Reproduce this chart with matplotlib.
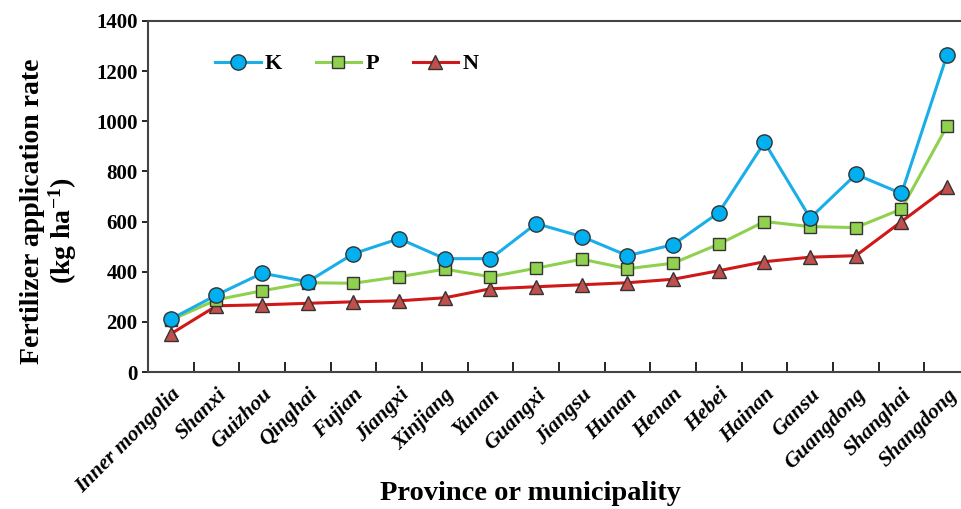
import matplotlib
matplotlib.use("Agg")
from matplotlib import pyplot as plt
import numpy as np

provinces = ['Inner mongolia', 'Shanxi', 'Guizhou', 'Qinghai', 'Fujian', 'Jiangxi',
             'Xinjiang', 'Yunan', 'Guangxi', 'Jiangsu', 'Hunan', 'Henan', 'Hebei',
             'Hainan', 'Gansu', 'Guangdong', 'Shanghai', 'Shangdong']
K = [211, 307, 394, 360, 472, 532, 452, 452, 592, 540, 464, 508, 636, 916, 614, 788, 712, 1266]
P = [207, 288, 324, 356, 354, 380, 410, 380, 414, 450, 412, 434, 510, 600, 580, 576, 650, 982]
N = [152, 264, 268, 274, 280, 284, 296, 332, 340, 348, 356, 370, 404, 440, 458, 464, 600, 736]

plt.rcParams['font.family'] = 'Liberation Serif'
plt.rcParams['font.weight'] = 'bold'
plt.rcParams['mathtext.fontset'] = 'custom'
plt.rcParams['mathtext.rm'] = 'Liberation Serif:bold'
plt.rcParams['mathtext.bf'] = 'Liberation Serif:bold'
plt.rcParams['mathtext.default'] = 'bf'

W, H = 962, 509
fig = plt.figure(figsize=(W / 100, H / 100), dpi=100)
ax = fig.add_axes([148 / W, 1 - 372 / H, (970 - 148) / W, (372 - 21) / H])

x = np.arange(len(provinces))
ax.plot(x, K, color='#1aaee8', lw=2.2, marker='o', ms=11, mfc='#00b0f0',
        mec='#333333', mew=1, label='K', zorder=3)
ax.plot(x, P, color='#8fd14f', lw=2.2, marker='s', ms=9, mfc='#92d050',
        mec='#333333', mew=1, label='P', zorder=2)
ax.plot(x, N, color='#d01818', lw=2.2, marker='^', ms=10, mfc='#c0504d',
        mec='#333333', mew=1, label='N', zorder=1)

ax.set_xlim(-0.5, len(provinces) - 0.5)
ax.set_ylim(0, 1400)
ax.set_yticks(range(0, 1401, 200))
ax.tick_params(axis='y', direction='out', length=4, labelsize=15, width=1.2)
ax.set_xticks(x)
ax.set_xticklabels(provinces, rotation=45, ha='right', rotation_mode='anchor',
                   fontsize=15.5, style='italic', fontweight='bold')
ax.tick_params(axis='x', length=0, pad=9)
ax.set_xticks(np.arange(0.5, len(provinces) - 0.5, 1), minor=True)
ax.tick_params(axis='x', which='minor', direction='in', length=7, width=1.2)
for s in ax.spines.values():
    s.set_color('#444444')
    s.set_linewidth(1.5)

fig.text(33 / W, 1 - 211 / H, 'Fertilizer application rate', rotation=90,
         ha='center', va='center', fontsize=20, fontweight='bold')
fig.text(63 / W, 1 - 231 / H, '(kg ha$^{-1}$)', rotation=90,
         ha='center', va='center', fontsize=20, fontweight='bold')
fig.text(530 / W, 3 / H, 'Province or municipality', ha='center', va='bottom',
         fontsize=20.5, fontweight='bold')

ax.legend(loc='center left', bbox_to_anchor=(0.0815, 0.877), ncol=3, frameon=False,
          fontsize=16, handlelength=2.05, handletextpad=0.2, columnspacing=1.5,
          borderpad=0, borderaxespad=0)

fig.savefig('out.png', dpi=100)
